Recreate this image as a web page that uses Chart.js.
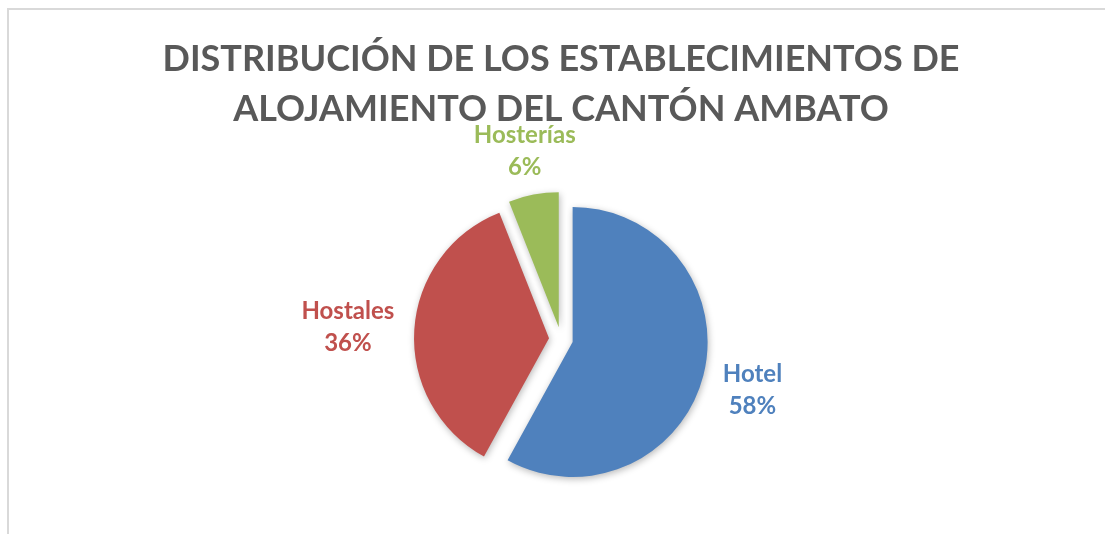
<!DOCTYPE html>
<html><head><meta charset="utf-8">
<script src="https://cdn.jsdelivr.net/npm/chart.js@4/dist/chart.umd.min.js"></script>
<style>
html,body{margin:0;padding:0;background:#fff;overflow:hidden}
#wrap{position:absolute;left:0;top:0;width:1105px;height:534px}
#frame{position:absolute;left:7px;top:8px;width:1200px;height:600px;border-top:2px solid #d9d9d9;border-left:2px solid #d9d9d9;pointer-events:none}
</style></head><body>
<div id="wrap"><canvas id="c" width="1105" height="534"></canvas></div>
<div id="frame"></div>
<script>
const categories = ['Hotel', 'Hostales', 'Hosterías'];
const percentages = [58, 36, 6];
const sliceColors = ['#4F81BD', '#C0504D', '#9BBB59'];
const titleLines = ['DISTRIBUCIÓN DE LOS ESTABLECIMIENTOS DE', 'ALOJAMIENTO DEL CANTÓN AMBATO'];

const EXPLODE = 12;
const LABEL_GAP = 18;
const LABEL_FONT = 'bold 24px Lato';
const LABEL_LINE = 32;
const LABEL_HALF_H = 28;
const LABEL_SHIFT_Y = 2;

const explodePlugin = {
  id: 'explode',
  beforeDatasetsDraw(chart) {
    const ctx = chart.ctx;
    ctx.save();
    ctx.shadowColor = 'rgba(0,0,0,0.28)';
    ctx.shadowBlur = 7;
    ctx.shadowOffsetX = 1;
    ctx.shadowOffsetY = 2;
    chart.getDatasetMeta(0).data.forEach(a => {
      const mid = (a.startAngle + a.endAngle) / 2;
      a._ox = a.x; a._oy = a.y;
      a.x = a._ox + Math.cos(mid) * EXPLODE;
      a.y = a._oy + Math.sin(mid) * EXPLODE;
    });
  },
  afterDatasetsDraw(chart) {
    const ctx = chart.ctx;
    ctx.restore();
    const meta = chart.getDatasetMeta(0);
    meta.data.forEach((a, i) => {
      const mid = (a.startAngle + a.endAngle) / 2;
      const dx = Math.cos(mid), dy = Math.sin(mid);
      const l1 = categories[i], l2 = percentages[i] + '%';
      ctx.save();
      ctx.font = LABEL_FONT;
      const hw = Math.max(ctx.measureText(l1).width, ctx.measureText(l2).width) / 2 + 2;
      const edge = Math.min(Math.abs(dx) > 1e-6 ? hw / Math.abs(dx) : Infinity,
                            Math.abs(dy) > 1e-6 ? LABEL_HALF_H / Math.abs(dy) : Infinity);
      const d = a.outerRadius + LABEL_GAP + edge;
      const cx = a.x + dx * d;
      const cy = a.y + dy * d + LABEL_SHIFT_Y;
      ctx.fillStyle = sliceColors[i];
      ctx.textAlign = 'center';
      ctx.textBaseline = 'middle';
      ctx.fillText(l1, cx, cy - LABEL_LINE / 2);
      ctx.fillText(l2, cx, cy + LABEL_LINE / 2);
      ctx.restore();
      a.x = a._ox; a.y = a._oy;
    });
  }
};

new Chart(document.getElementById('c'), {
  type: 'pie',
  data: {
    labels: categories,
    datasets: [{
      data: percentages,
      backgroundColor: sliceColors,
      borderWidth: 0,
      radius: 135
    }]
  },
  options: {
    responsive: false,
    animation: false,
    devicePixelRatio: 1,
    layout: { padding: { left: 17, right: 0, top: 0, bottom: 0 } },
    plugins: {
      legend: { display: false },
      tooltip: { enabled: false },
      title: {
        display: true,
        text: titleLines,
        color: '#595959',
        font: { family: 'Lato', size: 36, weight: 'bold', lineHeight: 50 / 36 },
        padding: { top: 34, bottom: 10 }
      }
    }
  },
  plugins: [explodePlugin]
});
</script>
</body></html>
